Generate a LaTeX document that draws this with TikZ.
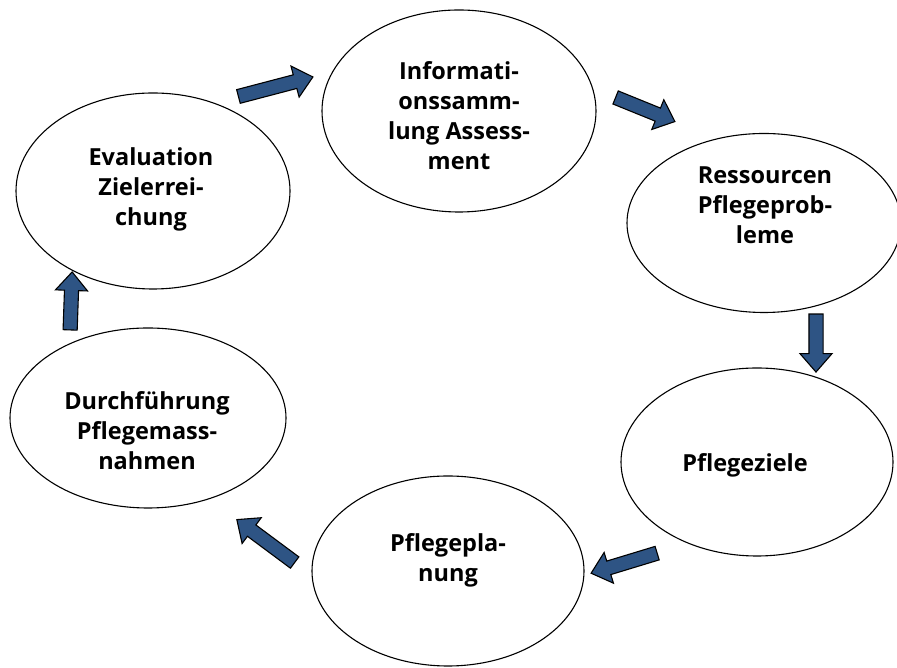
\documentclass[tikz,border=0pt]{standalone}
\usepackage{fontspec}
\setmainfont{Open Sans}
\usetikzlibrary{shapes.geometric,shapes.arrows}
\definecolor{stepblue}{RGB}{46,84,132}
\tikzset{
  stage/.style={draw,ellipse,line width=1.1pt,inner sep=0pt},
  stagetext/.style={align=center,inner sep=0pt,font=\bfseries\fontsize{23.5}{30}\selectfont},
  blockarrow/.style={single arrow,draw=black,fill=stepblue,line width=1.1pt,
    inner xsep=0pt,inner ysep=6.5pt,single arrow head extend=9pt,
    single arrow tip angle=82,minimum width=0pt}
}
\begin{document}
\begin{tikzpicture}[x=1pt,y=1pt]
        \useasboundingbox (0,0) rectangle (897,668);

        \node (info) at (459,557) [stage,minimum width=274pt,minimum height=202pt]{};
        \node (ress) at (764,445) [stage,minimum width=274pt,minimum height=179pt]{};
        \node (ziele) at (757,206) [stage,minimum width=272pt,minimum height=188pt]{};
        \node (planung) at (448,97) [stage,minimum width=272pt,minimum height=190pt]{};
        \node (durch) at (148,250) [stage,minimum width=276pt,minimum height=180pt]{};
        \node (eval) at (153,477) [stage,minimum width=274pt,minimum height=196pt]{};

        \node (info-t) at (459,552) [stagetext]{Informati-\\onssamm-\\lung Assess-\\ment};
        \node (ress-t) at (765,463) [stagetext]{Ressourcen\\Pflegeprob-\\leme};
        \node (ziele-t) at (745,203) [stagetext]{Pflegeziele};
        \node (planung-t) at (448,108) [stagetext]{Pflegepla-\\nung};
        \node (durch-t) at (147,237) [stagetext]{Durchführung\\Pflegemass-\\nahmen};
        \node (eval-t) at (151,479) [stagetext]{Evaluation\\Zielerrei-\\chung};

        \node (a1) at (271.75,580.25) [blockarrow,minimum height=77pt,rotate=14.7]{};
        \node (a2) at (641.5,560) [blockarrow,minimum height=64pt,rotate=-22.1]{};
        \node (a3) at (816,329) [blockarrow,minimum height=58pt,rotate=-90]{};
        \node (a4) at (628,106) [blockarrow,minimum height=69pt,rotate=196.9]{};
        \node (a5) at (269,124.5) [blockarrow,minimum height=72pt,rotate=143.4]{};
        \node (a6) at (71,363) [blockarrow,minimum height=58pt,rotate=88]{};

    \end{tikzpicture}
\end{document}
